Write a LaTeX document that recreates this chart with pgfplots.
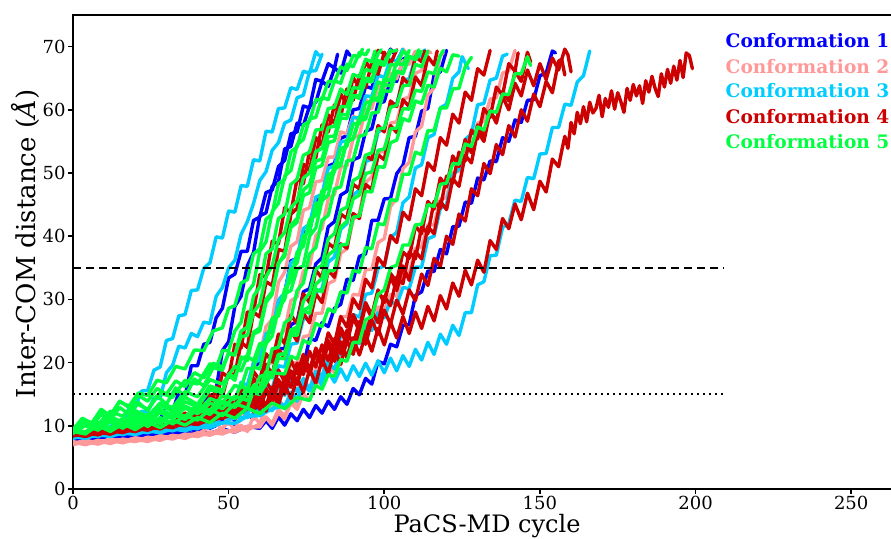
\documentclass[border=0pt]{standalone}
\usepackage{pgfplots}
\pgfplotsset{compat=1.18}
\usepackage{fontspec}
\setmainfont{DejaVu Serif}
\definecolor{cA}{RGB}{0,0,255}
\definecolor{cB}{RGB}{255,153,153}
\definecolor{cC}{RGB}{0,204,255}
\definecolor{cD}{RGB}{204,0,0}
\definecolor{cE}{RGB}{0,255,64}
\pgfplotsset{
 tr/.style={line width=1.7pt, line join=round, line cap=round, mark=none, solid},
 c1/.style={tr, draw=cA},
 c2/.style={tr, draw=cB},
 c3/.style={tr, draw=cC},
 c4/.style={tr, draw=cD},
 c5/.style={tr, draw=cE},
}
\begin{document}
\begin{tikzpicture}
\begin{axis}[
 scale only axis, width=414pt, height=237pt,
 xmin=0, xmax=266, ymin=0, ymax=75,
 xtick={0,50,...,250}, ytick={0,10,...,70},
 tick align=outside, tick pos=left,
 major tick length=2.5pt,
 axis line style={line width=1pt},
 every tick/.style={black, line width=0.8pt},
 /pgf/number format/assume math mode=true,
 ticklabel style={font=\fontsize{9}{10.8}\selectfont, inner sep=1pt},
 xlabel={PaCS-MD cycle}, ylabel={Inter-COM distance (\textit{Å})},
 xlabel style={font=\fontsize{12}{14}\selectfont, inner sep=0pt, at={(axis description cs:0.5,-0.0928)}, anchor=base},
 ylabel style={font=\fontsize{13}{15}\selectfont, at={(axis description cs:-0.058,0.517)}, anchor=center},
 clip=true,
]
% ---- Conformation 1 (blue)
\addplot[c1] coordinates {(0,8.2)(4,7.9)(8,8.9)(12,8.5)(16,9.6)(20,9.2)(24,11.0)(28,11.0)(30,13.2)(32,12.3)(34,15.3)(36,14.6)(38,19.5)(40,19.5)(42,22.9)(44,23.2)(46,27.1)(48,28.6)(50,33.4)(52,34.0)(54,37.6)(56,37.6)(58,42.5)(60,43.0)(62,46.9)(64,47.3)(66,51.0)(68,52.0)(70,56.2)(72,56.5)(74,60.6)(76,60.3)(78,64.8)(80,64.5)(82,67.3)(84,66.6)(85,68.8)};
\addplot[c1] coordinates {(0,7.8)(4,8.3)(8,8.0)(12,8.7)(16,8.4)(20,9.2)(24,8.9)(28,9.7)(32,9.6)(36,11.4)(38,10.9)(40,13.1)(42,12.9)(44,16.2)(46,15.8)(48,21.9)(50,23.3)(52,28.9)(54,30.5)(56,35.3)(58,37.4)(60,43.2)(62,43.7)(64,47.9)(66,48.6)(68,53.8)(70,54.2)(72,57.9)(74,57.5)(76,60.6)(78,61.2)(80,64.5)(82,63.7)(84,66.6)(86,65.8)(88,69.3)(89,68.6)};
\addplot[c1] coordinates {(0,8.1)(4,7.8)(8,8.4)(12,8.0)(16,8.7)(20,8.5)(24,9.1)(28,8.7)(32,9.4)(36,9.0)(40,9.8)(44,9.6)(48,10.5)(52,10.2)(56,11.8)(58,11.1)(60,13.4)(62,12.2)(64,14.6)(66,13.9)(68,17.3)(70,16.6)(72,19.6)(74,19.3)(76,23.8)(78,23.5)(80,26.3)(82,25.7)(84,28.6)(86,29.2)(88,33.2)(90,33.0)(92,36.8)(94,37.2)(96,42.5)(98,42.5)(100,45.9)(102,46.0)(104,49.9)(106,51.2)(108,55.6)(110,55.8)(112,59.8)(114,60.2)(116,65.5)(118,66.0)(120,69.4)};
\addplot[c1] coordinates {(0,8.0)(4,7.7)(8,8.3)(12,8.0)(16,8.5)(20,8.1)(24,8.6)(28,8.3)(32,8.9)(36,8.5)(40,9.1)(44,8.8)(48,9.5)(52,9.0)(56,9.9)(60,9.6)(62,10.8)(64,9.6)(66,11.4)(68,10.1)(70,11.9)(72,10.8)(74,12.6)(76,11.3)(78,13.2)(80,12.0)(82,13.9)(84,12.6)(86,14.6)(88,13.4)(90,15.9)(92,14.9)(94,17.5)(96,16.6)(98,20.2)(100,19.8)(102,22.9)(104,22.5)(106,25.9)(108,26.0)(110,30.6)(112,31.2)(114,34.5)(116,34.4)(118,37.9)(120,37.2)(122,41.5)(124,41.6)(126,45.4)(128,45.2)(130,49.2)(132,48.9)(134,51.9)(136,51.8)(138,55.6)(140,55.0)(142,58.4)(144,58.0)(146,61.5)(148,61.6)(150,65.4)(152,65.8)(154,69.3)(155,69.0)};
\addplot[c1] coordinates {(0,8.2)(4,8.0)(8,8.5)(12,8.2)(16,8.8)(20,8.6)(24,9.2)(28,8.9)(32,9.6)(36,9.4)(40,10.6)(44,10.5)(46,12.2)(48,10.9)(50,12.9)(52,12.6)(54,15.8)(56,15.4)(58,19.2)(60,20.1)(62,24.3)(64,25.1)(66,29.8)(68,30.9)(70,36.1)(72,36.5)(74,40.6)(76,40.8)(78,45.5)(80,46.2)(82,51.1)(84,51.5)(86,55.5)(88,55.9)(90,60.0)(92,60.2)(94,63.7)(96,63.4)(98,67.0)(100,67.3)(102,69.6)(103,69.0)};
\addplot[c1] coordinates {(0,7.9)(4,8.3)(8,8.1)(12,8.6)(16,8.2)(20,8.9)(24,8.5)(28,9.2)(32,8.9)(36,9.6)(40,9.3)(44,10.4)(48,10.6)(50,12.0)(52,10.8)(54,12.6)(56,11.6)(58,15.3)(60,14.8)(62,17.9)(64,17.9)(66,22.2)(68,22.2)(70,26.0)(72,26.5)(74,31.2)(76,31.7)(78,35.6)(80,36.6)(82,41.5)(84,42.3)(86,46.5)(88,47.1)(90,52.1)(92,52.5)(94,56.6)(96,57.0)(98,61.0)(100,61.3)(102,64.8)(104,64.5)(106,68.0)(108,68.5)};
% ---- Conformation 2 (pink)
\addplot[c2] coordinates {(0,7.0)(4,7.5)(8,7.1)(12,7.7)(16,7.3)(20,7.9)(24,7.5)(28,8.2)(32,7.9)(36,8.6)(40,8.3)(44,9.0)(48,8.7)(52,9.5)(56,9.3)(60,10.3)(62,11.4)(64,10.4)(66,12.6)(68,11.5)(70,13.9)(72,13.4)(74,16.4)(76,15.8)(78,19.1)(80,19.3)(82,22.8)(84,22.9)(86,27.2)(88,27.3)(90,30.8)(92,30.7)(94,34.7)(96,34.8)(98,39.0)(100,39.6)(102,44.7)(104,46.0)(106,50.7)(108,51.7)(110,56.5)(112,57.4)(114,62.3)(116,63.5)(118,68.6)(119,69.0)};
\addplot[c2] coordinates {(0,7.4)(4,7.0)(8,7.6)(12,7.2)(16,7.8)(20,7.5)(24,8.0)(28,7.7)(32,8.4)(36,8.0)(40,8.8)(44,8.5)(48,9.3)(52,9.0)(56,9.9)(60,9.8)(62,11.3)(64,10.1)(66,12.1)(68,11.1)(70,13.6)(72,12.6)(74,15.1)(76,14.0)(78,17.2)(80,16.5)(82,19.3)(84,18.4)(86,21.7)(88,21.1)(90,23.9)(92,23.1)(94,26.0)(96,25.6)(98,28.8)(100,28.2)(102,30.8)(104,30.5)(106,34.0)(108,34.1)(110,38.1)(112,38.3)(114,41.8)(116,41.8)(118,45.9)(120,46.1)(122,50.1)(124,50.3)(126,53.8)(128,53.8)(130,57.9)(132,58.2)(134,61.7)(136,61.9)(138,65.8)(140,66.2)(142,69.4)};
\addplot[c2] coordinates {(0,7.1)(4,7.6)(8,7.3)(12,7.9)(16,7.5)(20,8.1)(24,7.8)(28,8.4)(32,8.0)(36,8.7)(40,8.3)(44,9.0)(48,8.8)(52,9.5)(54,10.1)(56,9.1)(58,11.5)(60,10.4)(62,12.9)(64,12.6)(66,16.3)(68,16.2)(70,19.9)(72,20.0)(74,24.1)(76,24.3)(78,27.8)(80,27.8)(82,32.5)(84,33.0)(86,37.3)(88,38.0)(90,42.6)(92,43.6)(94,48.5)(96,49.4)(98,53.2)(100,53.5)(102,57.9)(104,58.1)(106,61.7)(108,62.0)(110,65.8)(112,66.2)(114,69.3)(115,69.0)};
\addplot[c2] coordinates {(0,7.5)(4,7.1)(8,7.7)(12,7.4)(16,7.9)(20,7.6)(24,8.2)(28,7.9)(32,8.5)(36,8.2)(40,8.9)(44,8.7)(48,9.6)(50,10.6)(52,9.3)(54,12.2)(56,11.6)(58,15.0)(60,15.6)(62,19.7)(64,20.0)(66,24.4)(68,25.1)(70,29.8)(72,30.4)(74,34.5)(76,35.2)(78,40.1)(80,41.2)(82,45.9)(84,46.6)(86,50.9)(88,51.1)(90,55.5)(92,56.0)(94,60.0)(96,60.2)(98,63.7)(100,63.4)(102,67.0)(104,67.3)(106,69.6)(107,69.0)};
\addplot[c2] coordinates {(0,7.2)(4,7.7)(8,7.3)(12,7.9)(16,7.6)(20,8.0)(24,7.8)(28,8.4)(32,8.1)(36,8.6)(40,8.7)(44,9.8)(46,10.5)(48,9.3)(50,12.2)(52,11.8)(54,15.4)(56,15.6)(58,20.1)(60,21.0)(62,25.7)(64,26.8)(66,32.7)(68,34.3)(70,38.4)(72,39.1)(74,44.1)(76,44.5)(78,48.6)(80,48.8)(82,52.5)(84,52.5)(86,56.5)(88,56.2)(90,59.0)(92,58.3)(94,61.6)(96,60.9)(98,64.1)(100,63.4)(102,65.8)(104,64.9)(106,67.8)(108,67.2)(110,69.3)};
% ---- Conformation 3 (cyan)
\addplot[c3] coordinates {(0,8.4)(4,8.6)(8,9.6)(12,9.8)(14,10.8)(16,10.6)(18,12.8)(20,12.9)(22,15.5)(24,15.6)(26,18.8)(28,19.3)(30,23.5)(32,23.8)(34,27.4)(36,27.6)(38,31.4)(40,31.5)(42,34.9)(44,35.8)(46,39.9)(48,39.7)(50,44.0)(52,43.8)(54,48.0)(56,47.9)(58,52.1)(60,51.9)(62,56.6)(64,56.5)(66,60.2)(68,60.3)(70,63.5)(72,63.2)(74,66.1)(76,65.8)(78,69.2)(79,68.6)};
\addplot[c3] coordinates {(0,8.1)(4,8.9)(8,8.7)(12,9.8)(16,9.6)(18,10.7)(20,10.2)(22,12.3)(24,12.2)(26,14.4)(28,14.3)(30,18.4)(32,19.6)(34,22.6)(36,22.3)(38,24.6)(40,24.1)(42,26.4)(44,26.2)(46,30.5)(48,31.9)(50,35.0)(52,36.2)(54,40.3)(56,42.3)(58,45.2)(60,48.8)(62,50.2)(64,53.6)(66,54.8)(68,57.9)(70,58.4)(72,61.9)(74,62.3)(76,66.1)(78,66.2)(80,68.8)};
\addplot[c3] coordinates {(0,8.0)(4,8.6)(8,8.3)(12,8.9)(16,8.6)(20,9.2)(24,8.9)(28,9.5)(32,9.2)(36,9.9)(40,9.5)(44,10.6)(48,10.4)(52,11.4)(56,11.3)(60,12.6)(64,12.4)(66,14.0)(68,13.0)(70,15.3)(72,14.2)(74,16.6)(76,15.7)(78,18.6)(80,17.9)(82,20.9)(84,20.6)(86,24.2)(88,24.0)(90,27.6)(92,27.2)(94,30.8)(96,31.0)(98,34.9)(100,35.3)(102,39.8)(104,40.6)(106,45.3)(108,46.2)(110,50.8)(112,51.3)(114,55.6)(116,56.1)(118,60.3)(120,60.9)(122,65.0)(124,66.0)(125,68.4)(127,66.5)};
\addplot[c3] coordinates {(0,8.5)(4,8.1)(8,8.7)(12,8.4)(16,9.0)(20,8.7)(24,9.3)(28,9.0)(32,9.6)(36,9.3)(40,9.8)(44,9.7)(48,10.5)(52,10.4)(56,11.5)(60,11.6)(64,12.7)(68,13.2)(70,14.8)(72,13.9)(74,16.5)(76,15.5)(78,18.1)(80,17.1)(82,19.9)(84,19.0)(86,21.9)(88,21.0)(90,23.9)(92,23.0)(94,25.9)(96,25.1)(98,27.9)(100,27.1)(102,29.8)(104,29.1)(106,31.9)(108,31.7)(110,35.1)(112,35.1)(114,39.6)(116,40.0)(118,44.4)(120,45.0)(122,49.7)(124,50.6)(126,55.3)(128,56.2)(130,60.8)(132,61.0)(134,64.7)(136,65.0)(138,68.5)(139.5,68.8)};
\addplot[c3] coordinates {(0,8.2)(4,8.7)(8,8.4)(12,9.0)(16,8.7)(20,9.3)(24,9.0)(28,9.6)(32,9.4)(36,10.4)(40,10.3)(44,11.4)(48,11.3)(52,12.8)(56,13.0)(58,14.7)(60,13.8)(62,15.7)(64,14.2)(66,16.3)(68,14.8)(70,17.0)(72,15.4)(74,17.5)(76,15.8)(78,18.1)(80,16.4)(82,18.6)(84,16.9)(86,19.0)(88,17.2)(90,19.5)(92,17.8)(94,19.9)(96,18.0)(98,20.3)(100,18.4)(102,20.7)(104,18.7)(106,21.1)(108,19.4)(110,22.1)(112,20.4)(114,23.2)(116,21.3)(118,24.5)(120,22.9)(122,25.9)(124,24.3)(126,27.9)(128,27.9)(130,32.3)(132,32.8)(134,36.9)(136,37.0)(138,41.4)(140,42.0)(142,45.7)(144,45.5)(146,49.3)(148,49.1)(150,53.0)(152,53.1)(154,57.2)(156,57.2)(158,60.9)(160,60.7)(162,64.4)(164,65.4)(166,69.3)};
\addplot[c3] coordinates {(0,8.6)(4,8.2)(8,8.8)(12,8.5)(16,9.1)(20,8.8)(24,9.4)(28,9.1)(32,9.7)(36,9.5)(40,11.1)(44,11.5)(46,12.9)(48,11.7)(50,13.9)(52,13.5)(54,16.9)(56,16.4)(58,20.0)(60,20.4)(62,24.6)(64,25.0)(66,29.9)(68,31.0)(70,35.8)(72,36.6)(74,41.2)(76,41.9)(78,46.2)(80,46.6)(82,50.8)(84,51.1)(86,54.9)(88,55.1)(90,58.8)(92,58.7)(94,62.2)(96,62.1)(98,65.5)(100,65.1)(102,68.0)(104,67.7)(106,69.6)};
\addplot[c3] coordinates {(0,8.3)(4,8.0)(8,8.6)(12,8.3)(16,8.9)(20,8.6)(24,9.2)(28,8.9)(32,9.5)(36,9.2)(40,9.9)(44,10.2)(48,11.5)(52,11.1)(54,12.6)(56,11.6)(58,14.3)(60,13.6)(62,16.4)(64,15.9)(66,19.5)(68,19.3)(70,22.9)(72,23.1)(74,26.9)(76,27.0)(78,31.1)(80,31.7)(82,35.9)(84,36.7)(86,41.1)(88,42.0)(90,46.5)(92,47.3)(94,51.8)(96,52.2)(98,56.5)(100,57.0)(102,60.8)(104,61.0)(106,64.7)(108,64.9)(110,68.3)(112,68.6)(113,69.5)};
% ---- Conformation 4 (dark red)
\addplot[c4] coordinates {(0,8.7)(4,8.4)(8,9.1)(12,8.8)(16,9.5)(20,9.1)(24,9.9)(28,9.5)(32,10.6)(36,10.2)(40,11.3)(44,10.9)(48,12.2)(50,12.8)(52,11.7)(54,14.3)(56,12.9)(58,15.6)(60,14.1)(62,17.1)(64,15.4)(66,18.8)(68,17.0)(70,20.4)(72,18.2)(74,21.3)(76,18.9)(78,22.1)(80,19.8)(82,22.9)(84,20.2)(86,23.3)(88,20.8)(90,23.9)(92,21.2)(94,24.4)(96,21.8)(98,25.4)(100,22.8)(102,26.4)(104,23.9)(106,27.3)(108,24.6)(110,28.0)(112,25.4)(114,28.9)(116,26.6)(118,30.6)(120,28.5)(122,32.6)(124,30.5)(126,34.6)(128,32.3)(130,36.2)(132,34.3)(134,39.3)(136,37.9)(138,42.8)(140,41.2)(142,45.1)(144,42.6)(146,46.8)(148,44.2)(150,48.7)(152,47.0)(154,52.2)(156,51.0)(157,53.5)(158,55.8)(159,53.9)(160,58.0)(161,56.2)(162,59.6)(163,57.8)(164,60.5)(165,58.1)(166,61.2)(167,59.5)(168,60.2)(169,62.3)(170,58.9)(171,61.8)(172,60.4)(173,63.0)(174,60.1)(175,62.7)(176,61.3)(177,59.6)(178,63.4)(179,61.5)(180,64.0)(181,62.2)(182,63.8)(183,61.0)(184,64.6)(185,62.8)(186,65.3)(187,63.4)(188,62.1)(189,65.7)(190,63.6)(191,66.4)(192,64.2)(193,66.9)(194,64.7)(195,67.8)(196,65.1)(197,69.0)(198,68.6)(199,66.5)};
\addplot[c4] coordinates {(0,8.5)(4,8.9)(8,8.6)(12,9.3)(16,9.0)(20,9.7)(24,9.4)(28,10.1)(32,9.9)(36,10.6)(40,10.3)(44,11.5)(48,11.4)(52,12.9)(56,12.7)(58,14.8)(60,13.1)(62,15.9)(64,14.2)(66,17.3)(68,15.5)(70,18.7)(72,16.8)(74,20.1)(76,18.2)(78,21.6)(80,19.6)(82,23.3)(84,21.2)(86,25.0)(88,23.0)(90,27.1)(92,25.0)(94,29.0)(96,27.1)(98,31.3)(100,29.6)(102,34.1)(104,32.8)(106,37.5)(108,36.5)(110,41.6)(112,40.4)(114,45.5)(116,44.3)(118,49.2)(120,47.8)(122,52.7)(124,51.0)(126,55.3)(128,53.2)(130,57.6)(132,55.7)(134,59.9)(136,57.9)(138,62.1)(140,60.0)(142,64.2)(144,62.2)(146,66.3)(148,63.8)(150,67.3)(152,64.8)(154,68.2)(156,66.3)(158,69.6)(159,68.7)(160,66.0)};
\addplot[c4] coordinates {(0,8.8)(4,8.4)(8,9.1)(12,8.7)(16,9.5)(20,9.2)(24,9.8)(28,9.6)(32,10.3)(36,10.0)(40,10.8)(44,10.7)(48,11.8)(52,11.9)(56,13.2)(58,14.3)(60,12.6)(62,15.5)(64,13.8)(66,17.0)(68,15.2)(70,18.6)(72,16.6)(74,20.1)(76,18.2)(78,22.3)(80,20.5)(82,24.7)(84,22.9)(86,27.3)(88,25.6)(90,30.1)(92,28.5)(94,33.2)(96,31.8)(98,36.6)(100,35.3)(102,40.1)(104,39.0)(106,43.8)(108,42.6)(110,47.5)(112,46.4)(114,51.6)(116,50.4)(118,55.6)(120,54.4)(122,59.3)(124,57.9)(126,62.8)(128,61.5)(130,66.5)(132,65.5)(134,69.4)};
\addplot[c4] coordinates {(0,8.4)(4,8.9)(8,8.6)(12,9.3)(16,8.9)(20,9.6)(24,9.3)(28,10.0)(32,9.7)(36,10.5)(40,10.2)(44,11.0)(48,11.2)(52,12.0)(56,12.8)(60,13.6)(62,15.6)(64,13.7)(66,16.8)(68,15.0)(70,18.4)(72,16.6)(74,20.0)(76,18.1)(78,21.6)(80,19.6)(82,23.5)(84,21.6)(86,25.5)(88,23.5)(90,27.6)(92,25.5)(94,29.5)(96,27.5)(98,31.5)(100,29.5)(102,33.5)(104,31.4)(106,35.3)(108,33.0)(110,37.6)(112,36.4)(114,41.5)(116,40.4)(118,45.5)(120,44.2)(122,49.1)(124,47.9)(126,52.8)(128,51.6)(130,56.6)(132,55.0)(134,59.7)(136,58.2)(138,62.9)(140,61.4)(142,66.1)(144,64.5)(146,69.1)(147,67.6)};
\addplot[c4] coordinates {(0,8.6)(4,9.0)(8,8.8)(12,9.5)(16,9.2)(20,9.9)(24,9.6)(28,10.3)(32,10.1)(36,11.0)(40,10.8)(44,12.3)(46,13.4)(48,11.8)(50,14.8)(52,13.0)(54,16.0)(56,14.5)(58,18.6)(60,17.2)(62,21.4)(64,20.1)(66,24.5)(68,23.0)(70,27.5)(72,26.2)(74,30.9)(76,29.5)(78,34.6)(80,33.4)(82,38.9)(84,38.1)(86,43.5)(88,42.8)(90,48.2)(92,47.5)(94,52.8)(96,52.1)(98,57.5)(100,56.5)(102,61.4)(104,60.5)(106,65.1)(108,63.9)(110,68.4)(112,67.6)(113,69.3)};
\addplot[c4] coordinates {(0,8.9)(4,8.5)(8,9.3)(12,8.9)(16,9.7)(20,9.3)(24,10.1)(28,9.7)(32,10.6)(36,10.4)(40,11.7)(44,11.6)(48,13.0)(50,14.2)(52,12.6)(54,15.9)(56,14.2)(58,17.6)(60,15.8)(62,19.7)(64,18.2)(66,22.2)(68,20.6)(70,25.0)(72,23.4)(74,27.8)(76,26.3)(78,30.9)(80,29.5)(82,34.6)(84,33.5)(86,38.8)(88,38.1)(90,43.6)(92,42.8)(94,48.2)(96,47.4)(98,52.9)(100,52.1)(102,57.5)(104,56.4)(106,61.6)(108,60.5)(110,65.2)(112,63.8)(114,68.4)(116,67.1)(117,69.3)};
\addplot[c4] coordinates {(0,8.4)(4,8.9)(8,8.6)(12,9.3)(16,9.0)(20,9.6)(24,9.4)(28,10.1)(32,10.2)(36,11.6)(40,11.6)(42,13.6)(44,12.5)(46,16.2)(48,14.6)(50,18.4)(52,18.0)(54,23.2)(56,22.4)(58,28.0)(60,27.2)(62,32.8)(64,32.2)(66,37.9)(68,37.6)(70,43.5)(72,44.4)(74,51.4)(76,50.4)(78,55.6)(80,54.4)(82,59.2)(84,57.8)(86,62.5)(88,60.8)(90,65.1)(92,63.5)(94,67.7)(96,66.0)(98,69.4)(100,68.9)};
\addplot[c4] coordinates {(0,8.7)(4,8.3)(8,9.0)(12,8.7)(16,9.4)(20,9.1)(24,9.8)(28,9.6)(32,10.4)(36,12.0)(38,10.7)(40,13.5)(42,11.9)(44,14.9)(46,13.9)(48,18.4)(50,17.6)(52,22.9)(54,22.3)(56,28.0)(58,28.0)(60,33.9)(62,33.5)(64,39.2)(66,38.8)(68,44.5)(70,43.7)(72,49.1)(74,48.3)(76,53.5)(78,52.4)(80,57.6)(82,56.5)(84,60.8)(86,59.0)(88,63.3)(90,61.5)(92,65.5)(94,63.5)(96,67.5)(98,65.6)(100,69.1)(102,67.3)(104,69.5)};
\addplot[c4] coordinates {(0,8.5)(4,9.0)(8,8.7)(12,9.4)(16,9.1)(20,9.8)(24,9.5)(28,10.2)(32,9.9)(36,10.7)(40,10.4)(44,11.5)(48,11.3)(52,12.6)(56,14.0)(58,12.2)(60,15.1)(62,13.1)(64,16.1)(66,14.2)(68,17.9)(70,16.1)(72,19.9)(74,18.1)(76,21.8)(78,19.3)(80,22.8)(82,20.3)(84,23.8)(86,21.4)(88,25.1)(90,22.8)(92,26.5)(94,24.2)(96,28.1)(98,26.3)(100,30.5)(102,29.0)(104,33.5)(106,32.5)(108,37.5)(110,36.4)(112,41.5)(114,40.4)(116,45.5)(118,44.4)(120,49.5)(122,48.4)(124,53.3)(126,51.9)(128,56.8)(130,55.4)(132,60.2)(134,58.8)(136,63.6)(138,62.3)(140,67.3)(142,66.1)(143,69.0)};
\addplot[c4] coordinates {(0,8.8)(4,8.5)(8,9.2)(12,8.8)(16,9.6)(20,9.2)(24,10.0)(28,9.6)(32,10.4)(36,10.1)(40,10.9)(44,10.6)(48,11.6)(52,11.4)(56,12.7)(60,14.2)(62,12.3)(64,15.4)(66,13.3)(68,16.5)(70,14.3)(72,17.6)(74,15.3)(76,18.9)(78,16.7)(80,20.5)(82,18.3)(84,22.0)(86,19.7)(88,23.5)(90,21.3)(92,25.1)(94,22.9)(96,26.7)(98,24.5)(100,28.3)(102,26.1)(104,29.9)(106,27.7)(108,31.5)(110,29.8)(112,34.0)(114,32.2)(116,36.5)(118,35.2)(120,40.0)(122,38.7)(124,43.5)(126,42.4)(128,47.5)(130,46.4)(132,51.5)(134,49.9)(136,54.5)(138,52.9)(140,57.5)(142,55.7)(144,60.0)(146,58.2)(148,62.5)(150,60.5)(152,64.5)(154,62.7)(156,67.7)(157,68.0)(158,65.5)};
% ---- Conformation 5 (green)
\addplot[c5] coordinates {(0,9.3)(3,10.8)(6,10.3)(9,12.3)(12,11.7)(15,13.8)(18,13.1)(21,15.2)(24,14.8)(27,17.2)(30,16.8)(33,19.4)(36,19.0)(39,22.0)(42,21.9)(45,25.0)(48,25.5)(50,28.6)(52,29.0)(54,32.6)(56,33.1)(58,37.2)(60,38.0)(62,42.7)(64,43.5)(66,48.3)(68,49.0)(70,53.4)(72,54.1)(74,57.6)(76,58.2)(78,61.6)(80,61.6)(82,64.5)(84,64.4)(86,66.8)(88,66.2)(90,68.6)(92,68.4)(93,69.6)};
\addplot[c5] coordinates {(0,9.0)(3,10.6)(6,9.9)(9,11.8)(12,10.9)(15,12.9)(18,11.8)(21,13.7)(24,12.4)(27,14.8)(30,13.4)(33,16.0)(36,14.6)(39,17.4)(42,16.3)(45,19.2)(48,18.8)(50,21.6)(52,21.2)(54,25.0)(56,25.6)(58,30.5)(60,32.0)(62,37.2)(64,38.0)(66,42.8)(68,43.5)(70,48.2)(72,49.0)(74,52.8)(76,53.3)(78,56.8)(80,56.9)(82,60.2)(84,60.4)(86,63.3)(88,62.4)(90,65.6)(92,65.2)(94,68.0)(96,67.6)(97,69.3)};
\addplot[c5] coordinates {(0,8.8)(4,10.5)(8,9.6)(12,11.4)(16,10.4)(20,12.3)(24,11.0)(28,13.2)(32,12.3)(36,14.5)(40,13.4)(44,16.3)(48,15.6)(50,18.0)(52,17.2)(54,20.9)(56,20.3)(58,24.5)(60,25.0)(62,29.5)(64,30.8)(66,35.8)(68,36.8)(70,41.4)(72,42.2)(74,46.4)(76,46.9)(78,50.8)(80,51.2)(82,54.8)(84,55.1)(86,58.7)(88,58.6)(90,62.2)(92,62.2)(94,65.0)(96,64.9)(98,67.8)(100,67.4)(102,69.5)};
\addplot[c5] coordinates {(0,9.2)(4,8.8)(8,10.4)(12,9.6)(16,11.2)(20,10.2)(24,11.8)(28,10.6)(32,12.4)(36,11.4)(40,13.5)(44,12.4)(48,14.8)(52,14.2)(54,16.6)(56,15.4)(58,19.3)(60,19.0)(62,23.0)(64,24.2)(66,28.5)(68,30.0)(70,34.6)(72,35.8)(74,40.0)(76,40.8)(78,45.1)(80,45.6)(82,49.7)(84,50.2)(86,53.9)(88,54.2)(90,57.8)(92,57.8)(94,61.1)(96,61.3)(98,64.4)(100,64.0)(102,67.2)(104,67.0)(106,69.3)(107,68.8)};
\addplot[c5] coordinates {(0,9.4)(4,9.0)(8,10.3)(12,9.4)(16,10.9)(20,9.9)(24,11.3)(28,10.3)(32,11.9)(36,11.0)(40,12.6)(44,11.8)(48,13.6)(52,13.0)(56,16.1)(58,15.4)(60,17.8)(62,18.1)(64,22.2)(66,22.4)(68,26.3)(70,27.0)(72,31.4)(74,32.6)(76,37.2)(78,38.2)(80,42.5)(82,43.3)(84,47.5)(86,47.8)(88,51.9)(90,52.1)(92,55.8)(94,56.1)(96,59.5)(98,59.6)(100,63.0)(102,62.9)(104,66.1)(106,65.7)(108,68.4)(110,68.2)(111,69.5)};
\addplot[c5] coordinates {(0,8.9)(4,10.2)(8,9.3)(12,10.6)(16,9.6)(20,11.0)(24,9.9)(28,11.3)(32,10.3)(36,11.6)(40,10.9)(44,12.6)(48,11.6)(52,13.5)(56,12.8)(58,15.6)(60,15.2)(62,17.9)(64,17.6)(66,21.2)(68,21.4)(70,25.2)(72,25.6)(74,29.7)(76,31.0)(78,34.8)(80,35.4)(82,39.6)(84,40.4)(86,44.1)(88,44.6)(90,48.8)(92,49.4)(94,52.8)(96,53.2)(98,57.0)(100,57.1)(102,60.4)(104,60.7)(106,63.8)(108,63.9)(110,67.2)(112,66.8)(114,69.3)};
\addplot[c5] coordinates {(0,9.1)(4,8.7)(8,10.2)(12,9.2)(16,10.8)(20,9.8)(24,11.4)(28,10.4)(32,12.0)(36,11.2)(40,12.7)(44,11.9)(48,13.9)(52,12.9)(56,15.2)(60,16.0)(62,18.5)(64,17.8)(66,20.7)(68,20.6)(70,24.4)(72,24.3)(74,28.2)(76,27.8)(78,31.6)(80,31.2)(82,34.5)(84,34.6)(86,38.6)(88,38.7)(90,43.0)(92,43.2)(94,47.1)(96,47.0)(98,51.0)(100,50.9)(102,54.8)(104,55.2)(106,58.6)(108,58.2)(110,61.4)(112,61.0)(114,63.9)(116,63.6)(118,66.6)(120,66.0)(122,68.7)(124,68.5)};
\addplot[c5] coordinates {(0,9.0)(4,10.6)(8,9.6)(12,11.2)(16,10.2)(20,11.9)(24,10.8)(28,12.6)(32,11.6)(36,13.8)(40,13.0)(44,15.7)(48,15.2)(50,18.2)(52,17.7)(54,20.5)(56,21.1)(58,24.8)(60,25.5)(62,30.0)(64,31.2)(66,35.6)(68,37.3)(70,41.8)(72,42.8)(74,47.3)(76,48.2)(78,51.9)(80,52.2)(82,55.8)(84,55.8)(86,59.3)(88,59.2)(90,62.2)(92,61.8)(94,64.6)(96,64.4)(98,67.4)(100,67.0)(102,69.2)(104,69.4)};
\addplot[c5] coordinates {(0,9.3)(4,8.8)(8,10.0)(12,9.1)(16,10.3)(20,9.4)(24,10.6)(28,9.7)(32,10.9)(36,10.1)(40,11.3)(44,10.5)(48,12.0)(52,11.2)(56,12.8)(60,11.9)(64,13.6)(68,12.7)(72,14.5)(76,14.0)(78,16.4)(80,15.8)(82,18.1)(84,17.8)(86,20.5)(88,20.2)(90,23.2)(92,23.2)(94,26.8)(96,27.3)(98,30.8)(100,31.5)(102,35.0)(104,35.4)(106,38.6)(108,38.6)(110,41.8)(112,41.9)(114,45.0)(116,44.7)(118,48.2)(120,48.4)(122,51.5)(124,51.4)(126,54.6)(128,54.2)(130,57.3)(132,56.8)(134,59.8)(136,59.6)(138,62.5)(140,62.4)(142,65.7)(144,65.7)(146,68.4)(147,67.0)};
\addplot[c5] coordinates {(0,9.5)(4,9.0)(8,10.5)(12,9.6)(16,11.0)(20,10.2)(24,11.6)(28,10.8)(32,12.2)(36,11.3)(40,12.8)(44,12.0)(48,13.8)(52,13.0)(56,15.3)(60,15.0)(64,18.4)(68,18.2)(70,21.0)(72,20.6)(74,23.5)(76,23.0)(78,26.2)(80,25.7)(82,28.5)(84,28.0)(86,31.2)(88,31.0)(90,34.6)(92,34.3)(94,38.2)(96,38.0)(98,42.0)(100,41.8)(102,45.8)(104,45.6)(106,49.8)(108,49.8)(110,53.3)(112,52.9)(114,56.7)(116,56.7)(118,60.3)(120,60.3)(122,63.3)(124,63.4)(126,66.8)(128,68.3)};
\addplot[c5] coordinates {(0,9.2)(4,10.8)(8,10.2)(12,12.3)(16,11.5)(20,13.6)(24,12.6)(28,15.2)(32,14.5)(36,17.2)(40,16.6)(44,19.8)(46,19.1)(48,21.9)(50,21.9)(52,25.0)(54,26.4)(56,31.1)(58,32.4)(60,37.6)(62,39.1)(64,43.9)(66,45.2)(68,49.5)(70,50.4)(72,54.5)(74,55.3)(76,58.6)(78,58.8)(80,62.0)(82,61.6)(84,64.6)(86,64.2)(88,67.2)(90,66.8)(92,69.1)(94,68.7)(95,69.5)};
\addplot[c5] coordinates {(0,8.8)(4,10.3)(8,9.6)(12,11.4)(16,10.6)(20,12.4)(24,11.5)(28,13.6)(32,12.9)(36,15.4)(40,14.6)(44,17.3)(48,16.6)(52,19.4)(54,18.7)(56,21.0)(58,20.3)(60,23.0)(62,23.2)(64,27.0)(66,27.5)(68,30.9)(70,31.4)(72,34.8)(74,35.3)(76,40.0)(78,41.3)(80,45.6)(82,46.5)(84,50.6)(86,51.2)(88,55.0)(90,55.4)(92,58.3)(94,58.5)(96,61.8)(98,61.4)(100,64.0)(102,63.8)(104,66.1)(106,65.8)(108,68.4)(110,67.9)(112,69.3)};
\addplot[c5] coordinates {(0,9.1)(4,10.0)(8,9.4)(12,10.9)(16,10.1)(20,11.6)(24,10.7)(28,12.3)(32,11.5)(36,13.1)(40,12.2)(44,14.3)(48,13.6)(52,16.4)(54,16.0)(56,19.1)(58,19.0)(60,22.6)(62,22.9)(64,26.7)(66,27.4)(68,31.6)(70,33.0)(72,37.5)(74,38.4)(76,42.6)(78,43.3)(80,47.2)(82,47.6)(84,51.3)(86,51.5)(88,55.2)(90,55.4)(92,58.9)(94,58.8)(96,62.0)(98,61.7)(100,64.9)(102,64.6)(104,67.5)(106,67.1)(108,69.4)};
\addplot[c5] coordinates {(0,9.0)(4,10.4)(8,9.5)(12,11.0)(16,10.0)(20,11.5)(24,10.6)(28,12.1)(32,11.1)(36,12.8)(40,11.9)(44,13.6)(48,12.7)(52,14.7)(56,14.0)(58,16.4)(60,15.9)(62,18.6)(64,18.3)(66,21.3)(68,21.4)(70,24.7)(72,25.0)(74,28.3)(76,28.8)(78,32.4)(80,33.3)(82,37.0)(84,37.8)(86,41.5)(88,42.3)(90,45.9)(92,46.5)(94,49.9)(96,50.2)(98,53.6)(100,53.8)(102,57.0)(104,57.1)(106,60.2)(108,60.1)(110,63.1)(112,62.9)(114,66.0)(116,65.7)(118,68.6)(119,69.4)};
\addplot[c5] coordinates {(0,9.4)(3,11.2)(6,10.4)(9,12.6)(12,11.6)(15,13.9)(18,12.9)(21,14.8)(24,13.9)(27,15.9)(30,15.0)(33,17.1)(36,16.2)(39,18.4)(42,17.6)(45,19.9)(48,19.3)(50,21.4)(52,21.2)(54,24.1)(56,24.3)(58,28.0)(60,29.3)(62,33.6)(64,35.3)(66,39.4)(68,40.6)(70,44.5)(72,45.6)(74,49.2)(76,50.0)(78,53.4)(80,53.9)(82,57.2)(84,57.4)(86,60.5)(88,60.5)(90,63.5)(92,63.4)(94,66.4)(96,66.1)(98,68.9)(99,69.5)};
% ---- threshold lines
\addplot[black, line width=1pt, dash pattern=on 4pt off 2.5pt] coordinates {(0,35) (209,35)};
\addplot[black, line width=1pt, dash pattern=on 1pt off 2pt] coordinates {(0,15) (209,15)};
% ---- legend (coloured text)
\node[anchor=base east, inner sep=0pt, text=cA, font=\fontsize{9.3}{11}\selectfont\bfseries] at (axis cs:262.4,69.8) {Conformation 1};
\node[anchor=base east, inner sep=0pt, text=cB, font=\fontsize{9.3}{11}\selectfont\bfseries] at (axis cs:262.4,65.8) {Conformation 2};
\node[anchor=base east, inner sep=0pt, text=cC, font=\fontsize{9.3}{11}\selectfont\bfseries] at (axis cs:262.4,61.9) {Conformation 3};
\node[anchor=base east, inner sep=0pt, text=cD, font=\fontsize{9.3}{11}\selectfont\bfseries] at (axis cs:262.4,57.9) {Conformation 4};
\node[anchor=base east, inner sep=0pt, text=cE, font=\fontsize{9.3}{11}\selectfont\bfseries] at (axis cs:262.4,53.9) {Conformation 5};
\coordinate (SW) at (rel axis cs:0,0);
\coordinate (NE) at (rel axis cs:1,1);
\end{axis}
\pgfresetboundingbox
\path[use as bounding box] ([xshift=-36.5pt,yshift=-25pt]SW) rectangle ([xshift=-5pt,yshift=7.5pt]NE);
\end{tikzpicture}
\end{document}
